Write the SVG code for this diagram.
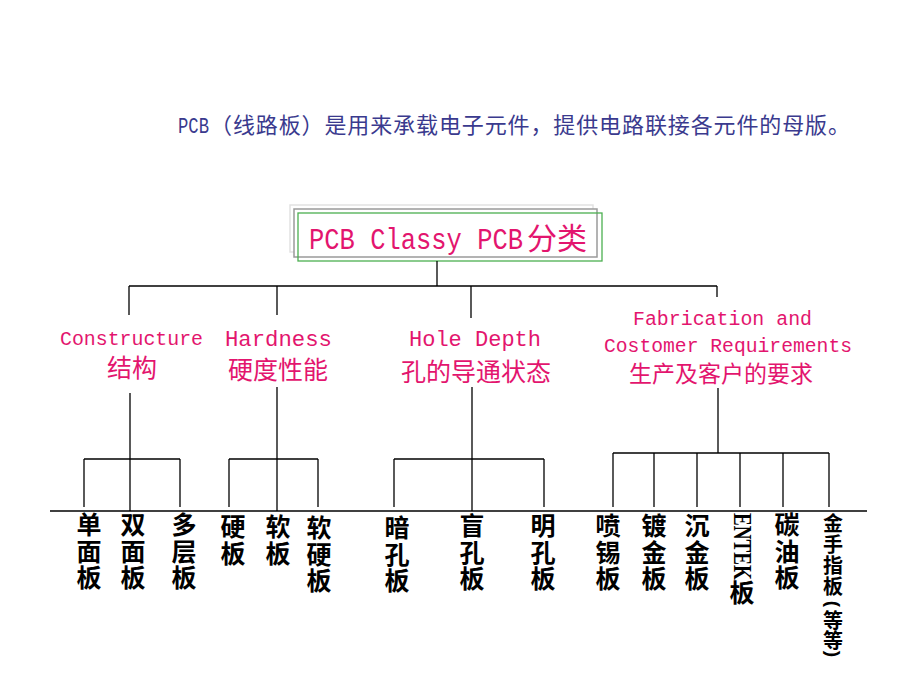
<svg xmlns="http://www.w3.org/2000/svg" width="920" height="690" viewBox="0 0 920 690">
<style>
.pk{fill:#E3156E;}
.mono{font-family:"Liberation Mono","Noto Sans CJK SC",monospace;}
.cjk{font-family:"Noto Sans CJK SC",sans-serif;text-spacing-trim:space-all;}
.vt{font-family:"Noto Sans CJK SC",sans-serif;font-size:25px;font-weight:bold;fill:#000;writing-mode:vertical-rl;letter-spacing:1.5px;text-spacing-trim:space-all;}
.vs{font-family:"Noto Sans CJK SC",sans-serif;font-size:20px;font-weight:bold;fill:#000;writing-mode:vertical-rl;letter-spacing:1px;}
.hs{font-family:"Noto Sans CJK SC",sans-serif;font-size:20px;font-weight:bold;fill:#000;text-anchor:middle;}
.par{font-family:"Liberation Sans",sans-serif;font-size:19px;font-weight:bold;fill:#000;text-anchor:middle;}
.ln{stroke:#000;stroke-width:1.3;fill:none;}
</style>
<rect width="920" height="690" fill="#fff"/>
<g id="intro">
<text x="178" y="133" font-size="22" fill="#3A3A8E" class="cjk"><tspan class="mono" textLength="31" lengthAdjust="spacingAndGlyphs">PCB</tspan><tspan x="210" textLength="640" lengthAdjust="spacing">（线路板）是用来承载电子元件，提供电路联接各元件的母版。</tspan></text>
</g>
<g id="root">
<rect x="290" y="205" width="303" height="47" fill="#fff" stroke="#e2e2e2" stroke-width="1.5"/>
<rect x="294" y="209" width="303" height="48" fill="#fff" stroke="#9a9a9a" stroke-width="1.5"/>
<rect x="298" y="213" width="304" height="48" fill="none" stroke="#4CAF50" stroke-width="1.3"/>
<text x="309" y="249" font-size="30" class="pk cjk"><tspan class="mono" textLength="214" lengthAdjust="spacingAndGlyphs">PCB Classy PCB</tspan><tspan x="527">分类</tspan></text>
</g>
<g id="connectors" class="ln">
<line x1="437" y1="261" x2="437" y2="286"/>
<line x1="129" y1="286" x2="717" y2="286"/>
<line x1="129" y1="286" x2="129" y2="315"/>
<line x1="277" y1="286" x2="277" y2="315"/>
<line x1="471" y1="286" x2="471" y2="318"/>
<line x1="717" y1="286" x2="717" y2="297"/>
<line x1="130" y1="393" x2="130" y2="511"/>
<line x1="277" y1="387" x2="277" y2="511"/>
<line x1="472" y1="387" x2="472" y2="511"/>
<line x1="718" y1="388" x2="718" y2="453"/>
<line x1="84" y1="459" x2="180" y2="459"/>
<line x1="84" y1="459" x2="84" y2="507"/>
<line x1="180" y1="459" x2="180" y2="507"/>
<line x1="229" y1="459" x2="318" y2="459"/>
<line x1="229" y1="459" x2="229" y2="507"/>
<line x1="318" y1="459" x2="318" y2="507"/>
<line x1="394" y1="459" x2="544" y2="459"/>
<line x1="394" y1="459" x2="394" y2="507"/>
<line x1="544" y1="459" x2="544" y2="507"/>
<line x1="613" y1="453" x2="829" y2="453"/>
<line x1="613" y1="453" x2="613" y2="507"/>
<line x1="654" y1="453" x2="654" y2="507"/>
<line x1="697" y1="453" x2="697" y2="507"/>
<line x1="740" y1="453" x2="740" y2="507"/>
<line x1="783" y1="453" x2="783" y2="507"/>
<line x1="829" y1="453" x2="829" y2="507"/>
<line x1="50" y1="511" x2="867" y2="511"/>
</g>
<g id="construct">
<text x="60" y="345" font-size="20" class="pk mono" textLength="143" lengthAdjust="spacingAndGlyphs">Constructure</text>
<text x="132" y="377" font-size="25" class="pk cjk" text-anchor="middle">结构</text>
</g>
<g id="hardness">
<text x="225" y="346" font-size="22" class="pk mono" textLength="107" lengthAdjust="spacingAndGlyphs">Hardness</text>
<text x="278" y="379" font-size="25" class="pk cjk" text-anchor="middle">硬度性能</text>
</g>
<g id="holedepth">
<text x="409" y="346" font-size="22" class="pk mono" textLength="132" lengthAdjust="spacingAndGlyphs">Hole Depth</text>
<text x="476" y="381" font-size="25" class="pk cjk" text-anchor="middle">孔的导通状态</text>
</g>
<g id="fabrication">
<text x="633" y="325" font-size="20" class="pk mono" textLength="179" lengthAdjust="spacingAndGlyphs">Fabrication and</text>
<text x="604" y="352" font-size="20" class="pk mono" textLength="248" lengthAdjust="spacingAndGlyphs">Costomer Requirements</text>
<text x="721" y="382" font-size="23" class="pk cjk" text-anchor="middle">生产及客户的要求</text>
</g>
<g id="leaf-single"><text class="vt" x="89" y="512">单面板</text></g>
<g id="leaf-double"><text class="vt" x="133" y="512">双面板</text></g>
<g id="leaf-multi"><text class="vt" x="184" y="512">多层板</text></g>
<g id="leaf-rigid"><text class="vt" x="233" y="514">硬板</text></g>
<g id="leaf-flex"><text class="vt" x="278" y="514">软板</text></g>
<g id="leaf-rigidflex"><text class="vt" x="319" y="515">软硬板</text></g>
<g id="leaf-buried"><text class="vt" x="397" y="515">暗孔板</text></g>
<g id="leaf-blind"><text class="vt" x="472" y="513">盲孔板</text></g>
<g id="leaf-through"><text class="vt" x="543" y="513">明孔板</text></g>
<g id="leaf-hasl"><text class="vt" x="608" y="513">喷锡板</text></g>
<g id="leaf-plated"><text class="vt" x="654" y="513">镀金板</text></g>
<g id="leaf-immersion"><text class="vt" x="697" y="513">沉金板</text></g>
<g id="leaf-entek">
<text transform="translate(734,513) rotate(90)" font-family="'Liberation Serif',serif" font-weight="bold" font-size="25" fill="#000" textLength="67" lengthAdjust="spacingAndGlyphs">ENTEK</text>
<text class="vt" x="742" y="580">板</text>
</g>
<g id="leaf-carbon"><text class="vt" x="787" y="512">碳油板</text></g>
<g id="leaf-goldfinger">
<text class="vs" x="833" y="513">金手指板</text>
<text class="par" transform="translate(833,604) rotate(90)" y="6">(</text>
<text class="hs"><tspan x="833" y="628">等</tspan><tspan x="833" y="648">等</tspan></text>
<text class="par" transform="translate(833,654) rotate(90)" y="6">)</text>
</g>
</svg>
